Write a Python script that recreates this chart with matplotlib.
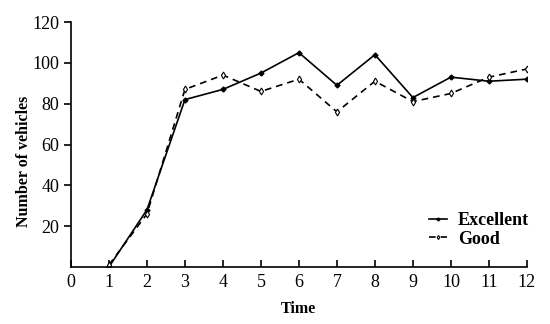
import matplotlib
matplotlib.use("Agg")
import matplotlib.pyplot as plt

times = [1, 2, 3, 4, 5, 6, 7, 8, 9, 10, 11, 12]
excellent = [0, 28, 82, 87, 95, 105, 89, 104, 83, 93, 91, 92]
good = [1, 26, 87, 94, 86, 92, 76, 91, 81, 85, 93, 97]
xticks = list(range(0, 13))
yticks = [20, 40, 60, 80, 100, 120]

plt.rcParams['font.family'] = ['Liberation Serif', 'DejaVu Serif']

fig = plt.figure(figsize=(5.5, 3.24), dpi=100)
ax = fig.add_axes([0.129, 0.176, 0.829, 0.756])

ax.plot(times, excellent, '-', color='black', lw=1.2, marker='D', ms=2.5, label='Excellent')
ax.plot(times, good, '--', color='black', lw=1.2, marker='d', ms=3.5, mfc='white', mew=0.8, label='Good', dashes=(4, 3))

ax.set_xlim(0, 12)
ax.set_ylim(0, 120)
ax.set_xticks(xticks)
ax.set_yticks(yticks)
ax.spines['top'].set_visible(False)
ax.spines['right'].set_visible(False)
ax.spines['left'].set_linewidth(1.2)
ax.spines['bottom'].set_linewidth(1.2)
ax.tick_params(axis='x', direction='in', length=5, width=1.2, labelsize=13, pad=5)
ax.tick_params(axis='y', direction='out', length=5, width=1.2, labelsize=13)
ax.set_xlabel('Time', fontsize=11.5, fontweight='bold', labelpad=7)
ax.set_ylabel('Number of vehicles', fontsize=11.5, fontweight='bold')
ax.yaxis.set_label_coords(-0.085, 0.43)

leg = ax.legend(loc='upper left', bbox_to_anchor=(0.785, 0.225), frameon=False,
                borderpad=0, borderaxespad=0,
                handlelength=1.0, handletextpad=0.6, labelspacing=0.1, markerscale=0.6,
                prop={'weight': 'bold', 'size': 13})

fig.savefig('out.png', dpi=100)
